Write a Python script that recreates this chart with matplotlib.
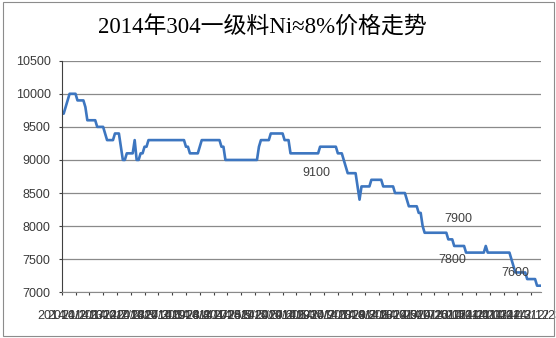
import matplotlib
matplotlib.use("Agg")
import matplotlib.pyplot as plt
import numpy as np
from matplotlib.patches import Rectangle

# price steps (yuan/t, run-length per trading day)
price_levels = [9700, 9800, 9900, 10000, 9900, 9800, 9600, 9500, 9400, 9300,
                9400, 9200, 9000, 9100, 9300, 9000, 9100, 9200, 9300, 9200,
                9100, 9200, 9300, 9200, 9000, 9200, 9300, 9400, 9300, 9100,
                9200, 9100, 9000, 8900, 8800, 8600, 8400, 8600, 8700, 8600,
                8500, 8400, 8300, 8200, 8000, 7900, 7800, 7700, 7600, 7700,
                7600, 7500, 7400, 7300, 7200, 7100]
run_lengths = [2, 1, 1, 4, 4, 1, 5, 4, 1, 4,
               3, 1, 2, 4, 1, 2, 2, 2, 19, 2,
               5, 1, 10, 2, 17, 1, 5, 7, 3, 15,
               9, 3, 1, 1, 5, 1, 1, 5, 6, 6,
               6, 1, 5, 2, 1, 12, 3, 6, 10, 1,
               12, 1, 1, 6, 5, 3]

tick_labels = ["2014/1/2", "2014/1/13", "2014/1/22", "2014/2/7", "2014/2/18",
               "2014/2/27", "2014/3/10", "2014/3/19", "2014/3/28", "2014/4/8",
               "2014/4/17", "2014/4/28", "2014/5/9", "2014/5/20", "2014/5/29",
               "2014/6/10", "2014/6/19", "2014/6/30", "2014/7/9", "2014/7/18",
               "2014/7/29", "2014/8/7", "2014/8/18", "2014/8/27", "2014/9/5",
               "2014/9/17", "2014/9/26", "2014/10/15", "2014/10/24", "2014/11/4",
               "2014/11/13", "2014/11/24", "2014/12/3", "2014/12/12", "2014/12/23"]

labelled_days = [129, 195, 198, 227]

prices = np.repeat(price_levels, run_lengths)
days = np.arange(len(prices))

W, H = 556, 338
fig = plt.figure(figsize=(W / 100, H / 100), dpi=100)
ax = fig.add_axes([61.7 / W, 1 - 292.3 / H, (541 - 61.7) / W, (292.3 - 60.7) / H])

ax.plot(days, prices, color="#3d76c0", linewidth=1.9, solid_joinstyle="round")

ax.set_xlim(0, len(prices) - 1)
ax.set_ylim(7000, 10500)
ax.set_yticks(np.arange(7000, 10501, 500))
ax.set_xticks(days[::7][:len(tick_labels)])
ax.set_xticklabels(tick_labels)

for t in ax.get_yticklabels() + ax.get_xticklabels():
    t.set_fontfamily("Liberation Sans")
    t.set_fontsize(9)
    t.set_color("#3a3a3a")

ax.grid(axis="y", color="#8a8a8a", linewidth=0.9)
ax.set_axisbelow(True)
for side in ("top", "right"):
    ax.spines[side].set_visible(False)
ax.spines["left"].set_color("#404040")
ax.spines["bottom"].set_color("#8a8a8a")
ax.tick_params(axis="y", length=2.5, width=0.8, color="#404040", pad=5.5)
ax.tick_params(axis="x", length=2.5, width=0.8, color="#404040", pad=10)

offsets = [(0, -14), (8.5, 10), (0, -14.5), (4.5, -14.5)]
for d, off in zip(labelled_days, offsets):
    ax.annotate(str(prices[d]), xy=(d, prices[d]), xytext=off,
                textcoords="offset points", ha="center", va="center",
                fontsize=9, family="Liberation Sans", color="#404040")

fig.text(262 / W, 1 - 28 / H, "2014年304一级料Ni≈8%价格走势", ha="center", va="center",
         fontsize=16.5, family=["Liberation Serif", "Noto Sans CJK SC"], color="black")

fig.patches.append(Rectangle((2.5 / W, 2 / H), 551 / W, 334 / H, transform=fig.transFigure,
                             fill=False, edgecolor="#8c8c8c", linewidth=0.8))

fig.savefig("out.png", dpi=100)
